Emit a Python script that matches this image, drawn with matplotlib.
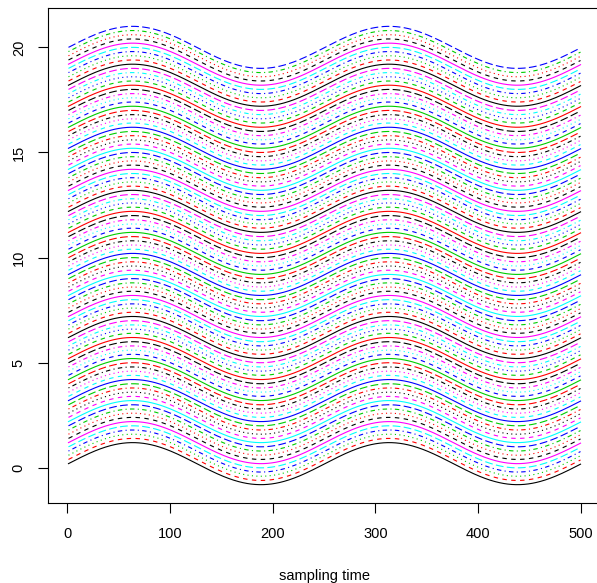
import numpy as np
import matplotlib
matplotlib.use("Agg")
from matplotlib import pyplot as plt

plt.rcParams['font.family'] = ['Liberation Sans', 'DejaVu Sans']

# duomenys: 100 sinusiniu kreiviu, pastumtu per 0.2
sampling_time = np.arange(1, 501)
offsets = np.arange(1, 101) * 0.2
period = 250
amplitude = 1.0

# R matplot spalvos ir liniju tipai
spalvos = ['black', '#FF0000', '#00CD00', '#0000FF', '#00FFFF', '#FF00FF']
tipai = ['-', (0, (4, 4)), (0, (1, 3)), (0, (1, 3, 4, 3)), (0, (7, 3))]

W, H = 597, 583
fig = plt.figure(figsize=(W / 100, H / 100), dpi=100)
left, right, top, bottom = 48, 601, 8, 503
ax = fig.add_axes([left / W, 1 - bottom / H, (right - left) / W, (bottom - top) / H])

lw = 0.8
for i, off in enumerate(offsets):
    y = off + amplitude * np.sin(2 * np.pi * (sampling_time - 1) / period)
    ax.plot(sampling_time, y, color=spalvos[i % 6], linestyle=tipai[i % 5], linewidth=lw)

ax.set_xlim(1 - 0.04 * 499, 500 + 0.04 * 499)
ymin, ymax = -0.8, 21.0
pad = 0.04 * (ymax - ymin)
ax.set_ylim(ymin - pad, ymax + pad)

ax.set_xticks([0, 100, 200, 300, 400, 500])
ax.set_yticks([0, 5, 10, 15, 20])
ax.tick_params(direction='out', length=7, width=0.8, labelsize=10.5)
ax.tick_params(axis='x', pad=10)
ax.tick_params(axis='y', pad=9)
for lab in ax.get_yticklabels():
    lab.set_rotation(90)
    lab.set_va('center')
for s in ax.spines.values():
    s.set_linewidth(0.8)

ax.set_xlabel('sampling time', fontsize=10.5, labelpad=20.5)

plt.savefig('out.png', dpi=100)
